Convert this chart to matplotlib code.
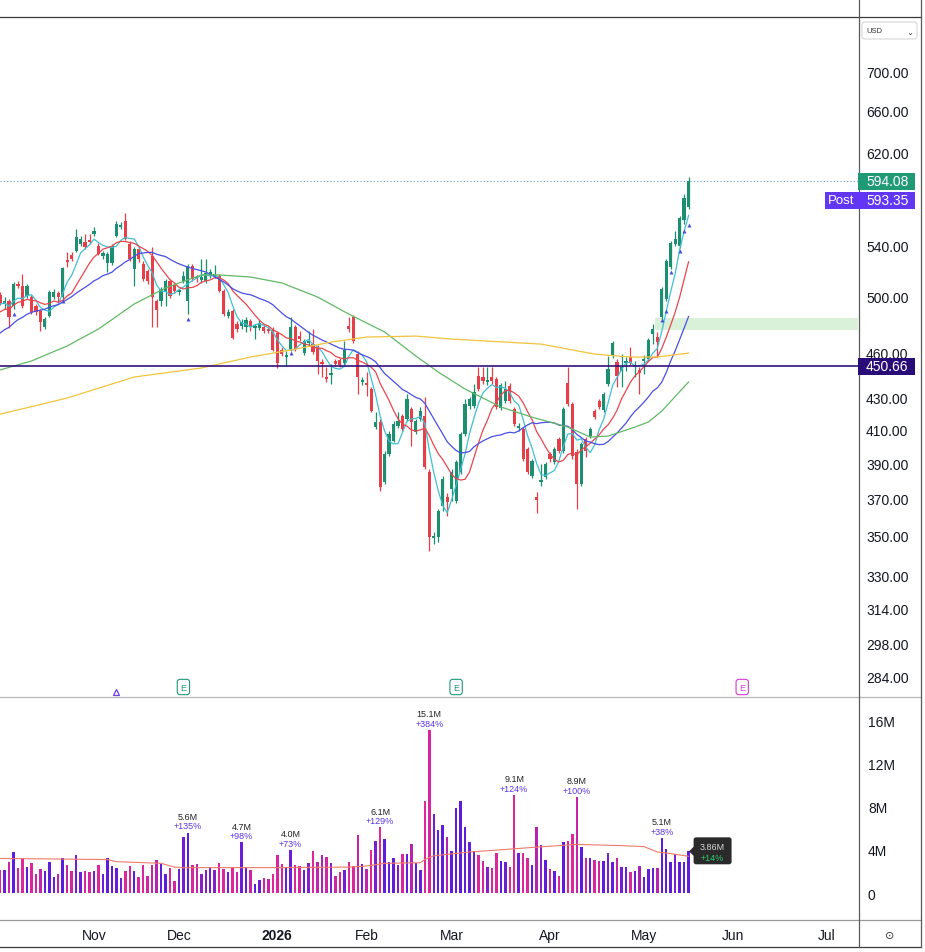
import numpy as np
import pandas as pd
import matplotlib
matplotlib.use('Agg')
from matplotlib import pyplot as plt
from matplotlib.lines import Line2D
from matplotlib.patches import Rectangle, FancyBboxPatch
from matplotlib.ticker import NullLocator
from matplotlib.transforms import IdentityTransform, blended_transform_factory

plt.rcParams['font.family'] = ['Liberation Sans', 'DejaVu Sans']

#   Calendario di borsa (festivi USA esclusi)
holidays = ['2025-11-27', '2025-12-25', '2026-01-01', '2026-01-19', '2026-02-16',
            '2026-04-03', '2026-05-25', '2026-06-19', '2026-07-03']
days = pd.bdate_range('2025-10-03', '2026-07-31')
days = days[~days.isin(pd.to_datetime(holidays))]

#   Candele giornaliere, 3 ott 2025 - 15 mag 2026
opens = [501.3, 494.6, 496.8, 493.1, 509.6, 508.1, 500.5, 499.8, 493.1, 489.4,
         477.9, 485.8, 499.8, 502.8, 499.8, 528.1, 532.0, 535.2, 540.8, 542.5,
         544.1, 549.0, 539.2, 531.2, 525.8, 525.8, 547.4, 554.8, 559.7, 540.8,
         521.1, 536.8, 525.0, 519.6, 531.2, 496.8, 496.8, 503.6, 511.9, 508.8,
         503.6, 511.9, 496.8, 523.4, 514.9, 512.6, 511.9, 515.7, 515.7, 515.7,
         504.3, 485.8, 489.4, 480.0, 478.6, 477.9, 482.2, 477.2, 477.2, 477.9,
         476.5, 475.8, 473.7, 461.8, 457.0, 462.5, 477.9, 471.5, 459.7, 466.6,
         465.9, 463.9, 453.6, 443.0, 444.9, 454.3, 455.0, 452.9, 478.6, 485.1,
         459.0, 440.3, 439.7, 435.7, 411.7, 414.8, 379.3, 395.4, 403.2, 412.3,
         418.5, 416.6, 422.9, 408.7, 416.6, 418.5, 385.0, 348.9, 349.4, 366.0,
         370.9, 375.3, 368.7, 385.0, 407.4, 424.8, 424.8, 444.3, 443.6, 440.3,
         443.6, 442.3, 423.5, 428.0, 437.7, 422.9, 411.1, 410.5, 398.4, 382.7,
         370.9, 379.3, 382.1, 395.4, 390.7, 404.4, 397.2, 439.7, 426.1, 396.6,
         378.1, 404.4, 406.2, 421.6, 428.0, 422.3, 439.0, 457.7, 453.6, 447.6,
         452.9, 457.0, 450.2, 448.2, 454.3, 455.6, 472.9, 470.8, 485.1, 498.3,
         522.7, 540.8, 539.2, 560.6, 571.5]
highs = [503.6, 499.8, 498.3, 511.1, 511.9, 517.2, 509.6, 501.3, 494.6, 490.9,
         485.1, 505.0, 505.8, 504.3, 522.7, 534.4, 534.4, 553.1, 547.4, 549.0,
         549.0, 554.8, 541.6, 535.2, 534.4, 540.8, 559.7, 558.9, 566.4, 543.3,
         538.4, 539.2, 527.3, 521.1, 538.4, 498.3, 507.3, 513.4, 513.4, 510.4,
         505.8, 519.6, 525.0, 525.0, 516.5, 528.9, 528.9, 521.1, 524.2, 517.2,
         505.8, 490.9, 490.9, 482.2, 483.6, 485.1, 483.6, 480.0, 482.9, 479.3,
         477.9, 477.9, 475.1, 463.9, 461.1, 485.1, 479.3, 475.1, 469.4, 475.1,
         476.5, 465.2, 455.6, 450.2, 452.2, 455.6, 456.3, 468.0, 485.1, 486.5,
         461.1, 443.6, 446.9, 437.0, 421.0, 416.6, 397.2, 409.3, 415.3, 421.0,
         419.7, 432.5, 424.2, 416.6, 424.2, 430.5, 386.7, 352.0, 364.3, 382.7,
         373.1, 386.7, 391.9, 408.7, 429.3, 430.5, 439.0, 450.2, 450.2, 450.2,
         450.2, 443.6, 439.7, 441.0, 439.7, 424.2, 414.2, 411.7, 399.6, 392.5,
         373.6, 389.6, 390.7, 396.6, 399.6, 405.6, 424.2, 450.2, 427.4, 398.4,
         402.6, 405.6, 411.7, 422.9, 429.3, 433.7, 457.7, 468.0, 455.6, 459.0,
         457.0, 463.9, 454.3, 450.2, 458.4, 470.1, 480.0, 474.4, 507.3, 528.9,
         543.3, 551.5, 563.9, 582.7, 597.6]
lows = [493.9, 490.9, 477.2, 490.9, 506.6, 491.6, 499.0, 487.2, 486.5, 475.1,
        476.5, 485.1, 498.3, 494.6, 498.3, 522.7, 527.3, 534.4, 539.2, 536.8,
        540.8, 547.4, 532.0, 528.9, 518.8, 524.2, 546.5, 553.1, 544.1, 527.3,
        508.1, 526.5, 511.9, 509.6, 477.9, 477.9, 493.1, 493.1, 499.0, 502.8,
        501.3, 510.4, 487.2, 511.9, 511.1, 510.4, 510.4, 514.1, 514.1, 503.6,
        485.8, 484.4, 469.4, 474.4, 476.5, 474.4, 475.1, 469.4, 475.8, 473.7,
        473.7, 461.1, 449.6, 457.7, 450.9, 461.1, 461.1, 468.0, 458.4, 464.6,
        459.0, 445.6, 443.6, 440.3, 439.0, 450.9, 450.2, 451.6, 474.4, 466.6,
        432.5, 438.3, 431.2, 421.0, 410.5, 374.2, 378.1, 394.3, 402.6, 411.1,
        409.3, 415.3, 400.2, 407.4, 415.3, 386.7, 342.2, 345.8, 346.8, 363.2,
        360.5, 368.7, 367.6, 383.8, 406.2, 422.9, 423.5, 434.4, 439.0, 438.3,
        439.0, 422.9, 422.3, 426.7, 426.7, 412.3, 409.3, 391.3, 383.8, 381.6,
        362.1, 377.0, 381.0, 390.7, 389.6, 396.0, 396.0, 424.8, 392.5, 364.3,
        377.0, 393.7, 405.0, 416.6, 422.9, 421.0, 437.7, 456.3, 437.0, 437.0,
        447.6, 451.6, 443.6, 432.5, 445.6, 454.3, 465.9, 457.7, 483.6, 496.8,
        521.1, 539.2, 537.6, 557.2, 569.8]
closes = [495.3, 496.8, 485.1, 509.6, 508.1, 493.1, 508.1, 488.7, 488.7, 481.5,
          483.6, 503.6, 503.6, 499.8, 521.9, 526.5, 528.9, 546.5, 544.9, 538.4,
          542.5, 551.5, 532.8, 533.6, 532.8, 539.2, 557.2, 556.4, 544.9, 528.9,
          536.8, 528.9, 513.4, 511.9, 499.8, 490.2, 505.8, 511.9, 500.5, 504.3,
          504.3, 515.7, 523.4, 513.4, 513.4, 514.9, 518.0, 518.8, 517.2, 504.3,
          487.2, 488.7, 470.1, 476.5, 481.5, 482.9, 477.9, 478.6, 480.7, 475.1,
          475.1, 461.8, 452.9, 459.0, 458.4, 477.9, 462.5, 469.4, 468.0, 468.0,
          460.4, 454.3, 452.2, 442.3, 445.6, 452.2, 451.6, 461.8, 476.5, 468.0,
          443.6, 441.6, 438.3, 421.6, 414.8, 376.4, 395.4, 407.4, 413.5, 415.3,
          410.5, 429.3, 414.8, 415.3, 421.6, 387.8, 349.4, 350.0, 363.2, 381.0,
          368.1, 385.0, 390.7, 407.4, 426.1, 429.3, 433.7, 435.7, 441.0, 441.6,
          441.0, 424.2, 438.3, 435.7, 428.0, 413.5, 412.3, 392.5, 385.0, 391.3,
          369.2, 379.8, 389.6, 392.5, 398.4, 397.2, 422.9, 426.1, 394.3, 378.1,
          401.4, 397.2, 410.5, 417.8, 424.2, 432.5, 448.9, 466.6, 444.3, 450.2,
          454.3, 452.9, 451.6, 446.2, 455.6, 468.7, 476.5, 467.3, 505.8, 527.3,
          541.6, 544.9, 562.2, 579.3, 594.08]
#   Volumi in milioni
volumes = [2.1, 2.1, 2.9, 3.8, 2.3, 3.2, 2.4, 2.8, 1.8, 2.2,
           2.0, 2.9, 1.5, 1.8, 3.2, 2.6, 2.0, 3.5, 1.9, 2.0,
           1.9, 2.0, 2.6, 1.8, 3.2, 2.5, 2.3, 1.4, 2.0, 2.5,
           2.0, 1.5, 2.6, 1.6, 2.6, 3.1, 2.7, 1.8, 2.3, 1.1,
           2.2, 5.2, 5.6, 2.6, 2.7, 1.8, 2.1, 2.4, 2.1, 2.8,
           2.2, 1.9, 2.4, 1.9, 4.7, 2.4, 2.1, 0.8, 1.2, 1.4,
           1.3, 1.8, 3.5, 2.7, 2.4, 4.0, 2.6, 2.5, 2.1, 2.8,
           3.9, 2.9, 3.5, 3.3, 2.8, 1.6, 1.9, 2.1, 2.9, 2.5,
           5.4, 2.7, 2.2, 4.0, 4.8, 6.1, 5.0, 2.9, 3.2, 2.6,
           3.6, 3.6, 4.5, 2.8, 2.1, 8.5, 15.1, 7.3, 5.8, 6.3,
           5.2, 3.9, 7.9, 8.5, 6.1, 4.7, 3.9, 3.5, 3.0, 2.4,
           2.3, 3.7, 3.0, 2.9, 2.4, 9.1, 3.7, 3.7, 3.2, 2.6,
           6.1, 4.4, 3.1, 2.2, 2.0, 1.6, 4.7, 4.8, 5.5, 8.9,
           4.3, 3.2, 3.2, 3.1, 3.0, 3.0, 3.7, 2.9, 3.2, 2.4,
           2.4, 1.9, 2.0, 2.5, 1.5, 2.2, 2.3, 2.3, 5.1, 4.1,
           2.9, 3.6, 2.9, 2.9, 3.86]
#   Chiusure di fine settembre (fuori schermo, stimate dal livello delle medie)
sep_closes = [446, 450, 448, 455, 458, 462, 460, 466, 470, 468,
              475, 478, 485, 480, 486, 487, 492, 498, 490, 497]

#   Media a 50 e a 200 giorni
ma50_dates = ['2025-10-03', '2025-10-14', '2025-10-24', '2025-11-04', '2025-11-14',
              '2025-11-25', '2025-12-08', '2025-12-12', '2025-12-23', '2026-01-05',
              '2026-01-15', '2026-01-27', '2026-02-06', '2026-02-18', '2026-02-25',
              '2026-03-05', '2026-03-17', '2026-03-26', '2026-04-08', '2026-04-15',
              '2026-04-21', '2026-04-29', '2026-05-04', '2026-05-07', '2026-05-15']
ma50 = [448.3, 454.3, 464.6, 476.5, 494.6, 506.6, 516.5, 516.5, 514.9, 510.4,
        499.8, 487.2, 474.4, 457.7, 446.9, 435.7, 424.2, 417.8, 411.7, 405.6,
        406.2, 411.7, 414.8, 421.6, 440.3]
ma200_dates = ['2025-10-03', '2025-10-24', '2025-11-14', '2025-12-08', '2025-12-23',
               '2026-01-07', '2026-01-21', '2026-02-02', '2026-02-18', '2026-03-02',
               '2026-03-12', '2026-03-30', '2026-04-16', '2026-04-28', '2026-05-06',
               '2026-05-15']
ma200 = [419.7, 429.9, 443.6, 449.6, 457.0, 461.8, 467.3, 470.8, 471.5, 469.4,
         468.0, 465.9, 459.0, 457.0, 457.0, 459.7]
#   Media dei volumi (milioni)
vol_avg_dates = ['2025-10-03', '2025-11-06', '2025-11-10', '2025-11-24', '2025-11-28',
                 '2025-12-02', '2025-12-30', '2026-01-27', '2026-02-02', '2026-02-06',
                 '2026-02-19', '2026-02-20', '2026-02-24', '2026-03-06', '2026-03-17',
                 '2026-03-27', '2026-04-10', '2026-04-23', '2026-05-01', '2026-05-06',
                 '2026-05-11', '2026-05-15']
vol_avg = [3.2, 3.1, 2.9, 2.75, 2.4, 2.35, 2.35, 2.4, 2.5, 2.75, 2.8, 3.1, 3.45,
           3.8, 4.0, 4.25, 4.5, 4.4, 4.3, 3.8, 3.65, 3.4]

#   Etichette dei picchi di volume
peak_dates = ['2025-12-03', '2025-12-19', '2026-01-07', '2026-02-05', '2026-02-23',
              '2026-03-20', '2026-04-10', '2026-05-07']
peak_pct = ['+135%', '+98%', '+73%', '+129%', '+384%', '+124%', '+100%', '+38%']
last_vol_pct = '+14%'

#   Segnali (triangolini) e altri marcatori
signal_dates = ['2025-10-08', '2025-10-23', '2025-12-03', '2026-01-07', '2026-05-07',
                '2026-05-08', '2026-05-11', '2026-05-13', '2026-05-14', '2026-05-15']
signal_prices = [487.2, 496.8, 483.6, 459.7, 482.9, 489.4, 518.8, 535.2, 551.5, 556.4]
earnings_dates = ['2025-12-02', '2026-03-03', '2026-06-03']
earnings_colors = ['#1f9a78', '#1f9a78', '#d63bd6']
split_date = '2025-11-10'

level = 450.66
post_price = 593.35
zone_low, zone_high, zone_start = 475.8, 484.3, '2026-05-06'

price_ticks = [284, 298, 314, 330, 350, 370, 390, 410, 430, 460, 500, 540, 620, 660, 700]
vol_ticks = [0, 4, 8, 12, 16]
month_starts = ['2025-11', '2025-12', '2026-01', '2026-02', '2026-03', '2026-04',
                '2026-05', '2026-06', '2026-07']
month_labels = ['Nov', 'Dec', '2026', 'Feb', 'Mar', 'Apr', 'May', 'Jun', 'Jul']


def pos(dates):
    return days.get_indexer(pd.to_datetime(dates))


o = np.array(opens)
h = np.array(highs)
l = np.array(lows)
c = np.array(closes)
v = np.array(volumes)
x = np.arange(len(c))
up = c >= o

#   Medie mobili semplici a 5, 10, 21 giorni
full = pd.Series(sep_closes + closes, dtype=float)
k = len(sep_closes)
sma5 = full.rolling(5).mean().to_numpy()[k:]
sma10 = full.rolling(10).mean().to_numpy()[k:]
sma21 = full.rolling(21).mean().to_numpy()[k:]

W, H = 925, 953
fig = plt.figure(figsize=(W / 100, H / 100), dpi=100)
fig.patch.set_facecolor('white')
PX = IdentityTransform()

ax = fig.add_axes([0, (H - 698) / H, 858 / W, (698 - 18) / H])
axv = fig.add_axes([0, (H - 921) / H, 858 / W, (921 - 698) / H])
xlim = (-0.03, 191.9)

#   Pannello prezzi
ax.set_yscale('log')
ax.set_xlim(*xlim)
ax.set_ylim(275.3, 758.7)
for s in ax.spines.values():
    s.set_visible(False)
ax.yaxis.tick_right()
ax.yaxis.set_minor_locator(NullLocator())
ax.set_yticks(price_ticks)
ax.set_yticklabels(['%.2f' % t for t in price_ticks])
ax.tick_params(axis='y', length=0, pad=5.8, labelsize=10, colors='#131722')
ax.set_xticks([])

up_col, dn_col = '#1b8f6f', '#e5404a'
cols = np.where(up, up_col, dn_col)
ax.vlines(x, l, h, colors=cols, lw=0.9, zorder=2)
body_lo = np.minimum(o, c)
body_h = np.maximum(np.abs(c - o), body_lo * 0.0025)
ax.bar(x, body_h, bottom=body_lo, width=0.72, color=cols, lw=0, zorder=3)

ax.plot(x, sma5, color='#41bfd3', lw=0.9, zorder=4)
ax.plot(x, sma10, color='#e8464f', lw=0.9, zorder=4)
ax.plot(x, sma21, color='#4a4ee6', lw=0.9, zorder=4)
ax.plot(pos(ma50_dates), ma50, color='#62b865', lw=0.9, zorder=4)
ax.plot(pos(ma200_dates), ma200, color='#f0c43c', lw=0.9, zorder=4)

ax.add_patch(Rectangle((pos([zone_start])[0] - 0.5, zone_low), 60, zone_high - zone_low,
                       color='#d9f0d9', lw=0, zorder=1))
ax.axhline(level, color='#33117f', lw=1.2, zorder=5)
ax.axhline(c[-1], color='#5d9ec2', lw=0.8, ls=(0, (1, 2)), zorder=1)
ax.scatter(pos(signal_dates), signal_prices, marker='^', s=8, color='#3d4de0', zorder=6, lw=0)

bt = blended_transform_factory(ax.transData, ax.transAxes)
for d, col in zip(earnings_dates, earnings_colors):
    ax.text(pos([d])[0], 0.0147, 'E', transform=bt, ha='center', va='center',
            fontsize=6.5, color=col, clip_on=False,
            bbox=dict(boxstyle='round,pad=0.35,rounding_size=0.3', fc='white', ec=col, lw=0.8))
ax.plot([pos([split_date])[0]], [0.008], transform=bt, marker='^', ms=5, mfc='none',
        mec='#6a3df0', mew=0.9, clip_on=False)

#   Pannello volumi
axv.set_xlim(*xlim)
axv.set_ylim(-2.5, 18.15)
for s in axv.spines.values():
    s.set_visible(False)
axv.yaxis.tick_right()
axv.set_yticks(vol_ticks)
axv.set_yticklabels(['0'] + ['%dM' % t for t in vol_ticks[1:]])
axv.tick_params(axis='y', length=0, pad=7.2, labelsize=10, colors='#131722')

blue_v = np.array([0.35, 0.11, 0.88])
pink_v = np.array([0.89, 0.15, 0.60])
t = np.clip((c - l) / np.maximum(h - l, 1e-6), 0, 1)
t = np.where(up, 0.55 + 0.45 * t, 0.55 * t)
vcols = [tuple(pink_v + (blue_v - pink_v) * ti) for ti in t]
axv.bar(x, v, width=0.55, color=vcols, lw=0, zorder=2)
axv.plot(pos(vol_avg_dates), vol_avg, color='#f07a6a', lw=0.8, zorder=3)

for d, pct in zip(peak_dates, peak_pct):
    i = pos([d])[0]
    axv.annotate(pct, (i, v[i]), xytext=(0, 1.5), textcoords='offset points',
                 ha='center', va='bottom', fontsize=6.5, color='#5b35e6')
    axv.annotate('%.1fM' % v[i], (i, v[i]), xytext=(0, 8.3), textcoords='offset points',
                 ha='center', va='bottom', fontsize=6.5, color='#222222')

mticks = [int(np.argmax(days.strftime('%Y-%m') == m)) for m in month_starts]
axv.set_xticks(mticks)
axv.set_xticklabels(month_labels)
axv.tick_params(axis='x', length=0, pad=6, labelsize=10, colors='#131722')
for lab in axv.get_xticklabels():
    if lab.get_text() == '2026':
        lab.set_fontweight('bold')

#   Linee di contorno (pixel)
def hline(y, x0, x1, color, lw=1.0):
    fig.add_artist(Line2D([x0, x1], [H - y, H - y], transform=PX, color=color, lw=lw))

def vline(xp, y0, y1, color, lw=1.0):
    fig.add_artist(Line2D([xp, xp], [H - y0, H - y1], transform=PX, color=color, lw=lw))

hline(18, 0, 921, '#3a3a3a', 0.9)
hline(698, 0, 921, '#b8b8b8', 0.9)
hline(921, 0, 921, '#9a9a9a', 0.9)
hline(948, 0, 921, '#3a3a3a', 0.9)
vline(858.5, 0, 948, '#5a5a5a', 0.9)
vline(921, 0, 948, '#5a5a5a', 0.9)

#   Etichette di prezzo sull'asse destro
def tag(yc, text, color, x0=858, x1=915, hgt=17):
    fig.add_artist(Rectangle((x0, yc - hgt / 2), x1 - x0, hgt, transform=PX,
                             color=color, lw=0, zorder=5))
    fig.text(x0 + 8, yc, text, transform=PX, color='white', fontsize=10,
             va='center', ha='left', zorder=6)

y_last = ax.transData.transform((0, c[-1]))[1]
y_level = ax.transData.transform((0, level))[1]
tag(y_last, '%.2f' % c[-1], '#1f9a74')
tag(y_last - 19, '%.2f' % post_price, '#6236f5')
tag(y_level, '%.2f' % level, '#2a0c78')
fig.add_artist(Rectangle((825, y_last - 19 - 8.5), 33, 17, transform=PX,
                         color='#6236f5', lw=0, zorder=5))
fig.text(841, y_last - 19, 'Post', transform=PX, color='white', fontsize=9.5,
         va='center', ha='center', zorder=6)

#   Riquadro del volume corrente
vx, vy = axv.transData.transform((x[-1], v[-1]))
fig.add_artist(FancyBboxPatch((vx + 5, vy - 13), 38, 27, transform=PX,
                              boxstyle='round,pad=0,rounding_size=2.5',
                              fc='#2a2a2a', ec='none', zorder=5))
fig.add_artist(plt.Polygon([[vx + 1.5, vy], [vx + 5.5, vy + 4], [vx + 5.5, vy - 4]],
                           closed=True, transform=PX, color='#2a2a2a', zorder=5))
fig.text(vx + 24, vy + 5, '%.2fM' % v[-1], transform=PX, color='#d8d8d8',
         fontsize=6.5, ha='center', va='center', zorder=6)
fig.text(vx + 24, vy - 6, last_vol_pct, transform=PX, color='#2ecc71',
         fontsize=6.5, ha='center', va='center', zorder=6)

#   Selettore valuta e icona
fig.add_artist(FancyBboxPatch((862, H - 40), 55, 17, transform=PX,
                              boxstyle='round,pad=0,rounding_size=3',
                              fc='white', ec='#d6d6d6', lw=0.8))
fig.text(866, H - 31.5, 'USD', transform=PX, fontsize=5.5, color='#333333', va='center')
fig.text(910, H - 32.5, '⌄', transform=PX, fontsize=6, color='#333333', va='center',
         ha='center', family=['DejaVu Sans'])
fig.text(890, H - 936, '⊙', transform=PX, fontsize=8, color='#333333', va='center',
         ha='center', family=['DejaVu Sans'])

fig.savefig('out.png', dpi=100)
